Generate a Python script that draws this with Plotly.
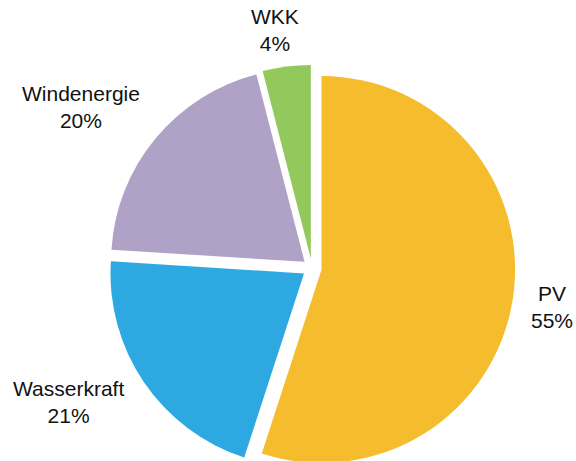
import plotly.graph_objects as go

# Shares of production by source
labels = ["PV", "Wasserkraft", "Windenergie", "WKK"]
values = [55, 21, 20, 4]
colors = ["#F5BD2E", "#2EA8E0", "#B0A2C7", "#92C85C"]

# Label anchor points in pixels (centre of each two-line label)
label_px = {
    "PV": (552, 307),
    "Wasserkraft": (68, 402),
    "Windenergie": (81, 107),
    "WKK": (275, 30),
}

W, H = 576, 536
PULL = 0.05
cx, r_px = 312, 193.5
half_box = r_px * (1 + PULL)

fig = go.Figure(
    go.Pie(
        labels=labels,
        values=values,
        sort=False,
        direction="clockwise",
        rotation=0,
        pull=[PULL] * len(values),
        marker=dict(colors=colors, line=dict(width=0)),
        textinfo="none",
        hoverinfo="label+percent",
        domain=dict(x=[(cx - half_box) / W, (cx + half_box) / W], y=[0, 1]),
        showlegend=False,
    )
)

total = sum(values)
for lab, val in zip(labels, values):
    px, py = label_px[lab]
    fig.add_annotation(
        x=px / W,
        y=1 - py / H,
        xref="paper",
        yref="paper",
        text=f"{lab}<br>{round(100 * val / total)}%",
        showarrow=False,
        xanchor="center",
        yanchor="middle",
        align="center",
        font=dict(family="Arial, Liberation Sans, sans-serif", size=21, color="#111111"),
    )

fig.update_layout(
    width=W,
    height=H,
    margin=dict(l=0, r=0, t=0, b=0),
    paper_bgcolor="white",
    plot_bgcolor="white",
)

fig.write_html("out.html")
